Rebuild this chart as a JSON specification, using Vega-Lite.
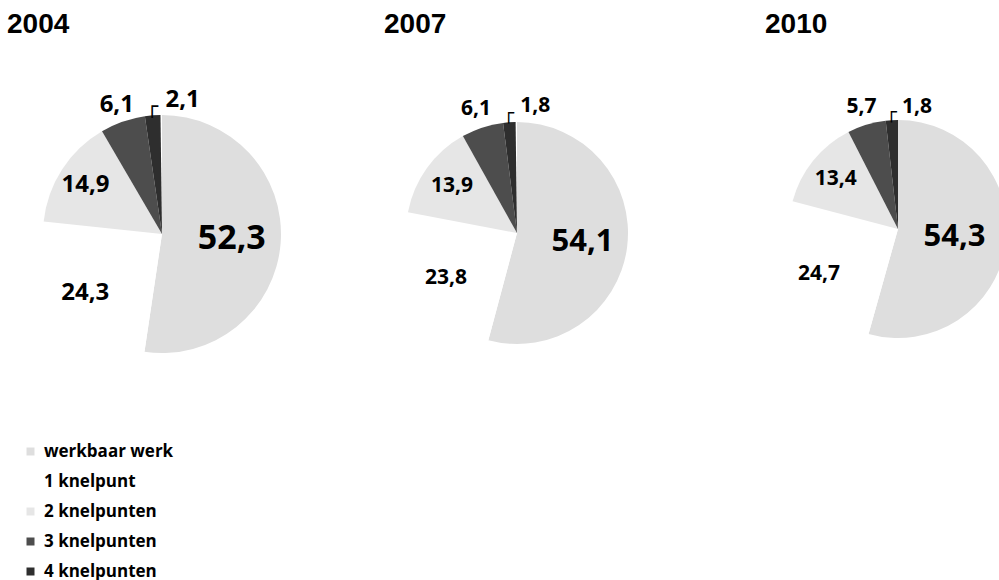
{
  "$schema": "https://vega.github.io/schema/vega-lite/v6.json",
  "width": 999,
  "height": 580,
  "autosize": {"type": "none"},
  "padding": 0,
  "background": "white",
  "config": {
    "view": {"stroke": null},
    "locale": {"number": {"decimal": ",", "thousands": ".", "grouping": [3], "currency": ["€", ""]}}
  },
  "data": {"values": [
    {"year": 2004, "category": "werkbaar werk", "value": 52.3, "rank": 1},
    {"year": 2004, "category": "1 knelpunt", "value": 24.3, "rank": 2},
    {"year": 2004, "category": "2 knelpunten", "value": 14.9, "rank": 3},
    {"year": 2004, "category": "3 knelpunten", "value": 6.1, "rank": 4},
    {"year": 2004, "category": "4 knelpunten", "value": 2.1, "rank": 5},
    {"year": 2007, "category": "werkbaar werk", "value": 54.1, "rank": 1},
    {"year": 2007, "category": "1 knelpunt", "value": 23.8, "rank": 2},
    {"year": 2007, "category": "2 knelpunten", "value": 13.9, "rank": 3},
    {"year": 2007, "category": "3 knelpunten", "value": 6.1, "rank": 4},
    {"year": 2007, "category": "4 knelpunten", "value": 1.8, "rank": 5},
    {"year": 2010, "category": "werkbaar werk", "value": 54.3, "rank": 1},
    {"year": 2010, "category": "1 knelpunt", "value": 24.7, "rank": 2},
    {"year": 2010, "category": "2 knelpunten", "value": 13.4, "rank": 3},
    {"year": 2010, "category": "3 knelpunten", "value": 5.7, "rank": 4},
    {"year": 2010, "category": "4 knelpunten", "value": 1.8, "rank": 5}
  ]},
  "resolve": {"scale": {"x": "independent", "y": "independent"}},
  "layer": [
    {
      "transform": [{"filter": "datum.rank == 1"}],
      "mark": {"type": "text", "font": "Liberation Sans", "fontWeight": "bold", "fontSize": 28, "align": "left", "baseline": "alphabetic", "color": "#000000"},
      "encoding": {
        "text": {"field": "year", "type": "nominal"},
        "x": {"field": "year", "type": "quantitative", "scale": {"domain": [2004, 2007, 2010], "range": [7, 384, 765], "zero": false, "nice": false}, "axis": null},
        "y": {"field": "year", "type": "quantitative", "scale": {"domain": [2004, 2010], "range": [33, 33], "zero": false, "nice": false}, "axis": null}
      }
    },
    {
      "transform": [{"filter": "datum.year == 2004"}],
      "encoding": {
        "theta": {"field": "value", "type": "quantitative", "stack": true},
        "order": {"field": "rank", "type": "quantitative"},
        "x": {"field": "year", "type": "quantitative", "scale": {"domain": [2004, 2007, 2010], "range": [162, 517, 898], "zero": false, "nice": false}, "axis": null},
        "y": {"field": "year", "type": "quantitative", "scale": {"domain": [2004, 2007, 2010], "range": [234, 233, 229], "zero": false, "nice": false}, "axis": null}
      },
      "layer": [
        {"mark": {"type": "arc", "outerRadius": 119},
         "encoding": {"color": {"field": "category", "type": "nominal",
           "scale": {"domain": ["werkbaar werk", "1 knelpunt", "2 knelpunten", "3 knelpunten", "4 knelpunten"], "range": ["#dedede", "#ffffff", "#e6e6e6", "#4d4d4d", "#2e2e2e"]},
           "legend": {"title": null, "orient": "none", "legendX": 22, "legendY": 443, "symbolType": "square", "symbolSize": 64, "symbolStrokeWidth": 0, "labelFont": "Open Sans", "labelFontWeight": "bold", "labelFontSize": 17, "labelOffset": 5, "rowPadding": 12, "labelColor": "#000000"}}}},
        {"mark": {"type": "text", "radius": 70, "font": "Open Sans", "fontWeight": "bold", "fontSize": 34, "color": "#000000"},
         "encoding": {"text": {"condition": {"test": "datum.category === 'werkbaar werk'", "field": "value", "type": "quantitative", "format": ".1f"}, "value": ""}}},
        {"mark": {"type": "text", "radius": 97, "font": "Open Sans", "fontWeight": "bold", "fontSize": 24, "color": "#000000"},
         "encoding": {"text": {"condition": {"test": "datum.category === '1 knelpunt'", "field": "value", "type": "quantitative", "format": ".1f"}, "value": ""}}},
        {"mark": {"type": "text", "radius": 91, "font": "Open Sans", "fontWeight": "bold", "fontSize": 24, "color": "#000000"},
         "encoding": {"text": {"condition": {"test": "datum.category === '2 knelpunten'", "field": "value", "type": "quantitative", "format": ".1f"}, "value": ""}}},
        {"mark": {"type": "text", "radius": 137, "font": "Open Sans", "fontWeight": "bold", "fontSize": 24, "color": "#000000"},
         "encoding": {"text": {"condition": {"test": "datum.category === '3 knelpunten'", "field": "value", "type": "quantitative", "format": ".1f"}, "value": ""}}},
        {"mark": {"type": "text", "radius": 134, "align": "left", "dx": 14, "font": "Open Sans", "fontWeight": "bold", "fontSize": 24, "color": "#000000"},
         "encoding": {"text": {"condition": {"test": "datum.category === '4 knelpunten'", "field": "value", "type": "quantitative", "format": ".1f"}, "value": ""}}},
        {"mark": {"type": "text", "radius": 127, "font": "DejaVu Sans", "fontSize": 20, "color": "#000000"},
         "encoding": {"text": {"condition": {"test": "datum.category === '4 knelpunten'", "value": "┌"}, "value": ""}}}
      ]
    },
    {
      "transform": [{"filter": "datum.year == 2007"}],
      "encoding": {
        "theta": {"field": "value", "type": "quantitative", "stack": true},
        "order": {"field": "rank", "type": "quantitative"},
        "x": {"field": "year", "type": "quantitative", "scale": {"domain": [2004, 2007, 2010], "range": [162, 517, 898], "zero": false, "nice": false}, "axis": null},
        "y": {"field": "year", "type": "quantitative", "scale": {"domain": [2004, 2007, 2010], "range": [234, 233, 229], "zero": false, "nice": false}, "axis": null}
      },
      "layer": [
        {"mark": {"type": "arc", "outerRadius": 111},
         "encoding": {"color": {"field": "category", "type": "nominal",
           "scale": {"domain": ["werkbaar werk", "1 knelpunt", "2 knelpunten", "3 knelpunten", "4 knelpunten"], "range": ["#dedede", "#ffffff", "#e6e6e6", "#4d4d4d", "#2e2e2e"]},
           "legend": {"title": null, "orient": "none", "legendX": 22, "legendY": 443, "symbolType": "square", "symbolSize": 64, "symbolStrokeWidth": 0, "labelFont": "Open Sans", "labelFontWeight": "bold", "labelFontSize": 17, "labelOffset": 5, "rowPadding": 12, "labelColor": "#000000"}}}},
        {"mark": {"type": "text", "radius": 66, "font": "Open Sans", "fontWeight": "bold", "fontSize": 31, "color": "#000000"},
         "encoding": {"text": {"condition": {"test": "datum.category === 'werkbaar werk'", "field": "value", "type": "quantitative", "format": ".1f"}, "value": ""}}},
        {"mark": {"type": "text", "radius": 84, "font": "Open Sans", "fontWeight": "bold", "fontSize": 21, "color": "#000000"},
         "encoding": {"text": {"condition": {"test": "datum.category === '1 knelpunt'", "field": "value", "type": "quantitative", "format": ".1f"}, "value": ""}}},
        {"mark": {"type": "text", "radius": 80, "font": "Open Sans", "fontWeight": "bold", "fontSize": 21, "color": "#000000"},
         "encoding": {"text": {"condition": {"test": "datum.category === '2 knelpunten'", "field": "value", "type": "quantitative", "format": ".1f"}, "value": ""}}},
        {"mark": {"type": "text", "radius": 131, "font": "Open Sans", "fontWeight": "bold", "fontSize": 21, "color": "#000000"},
         "encoding": {"text": {"condition": {"test": "datum.category === '3 knelpunten'", "field": "value", "type": "quantitative", "format": ".1f"}, "value": ""}}},
        {"mark": {"type": "text", "radius": 127, "align": "left", "dx": 12, "font": "Open Sans", "fontWeight": "bold", "fontSize": 21, "color": "#000000"},
         "encoding": {"text": {"condition": {"test": "datum.category === '4 knelpunten'", "field": "value", "type": "quantitative", "format": ".1f"}, "value": ""}}},
        {"mark": {"type": "text", "radius": 119, "font": "DejaVu Sans", "fontSize": 18, "color": "#000000"},
         "encoding": {"text": {"condition": {"test": "datum.category === '4 knelpunten'", "value": "┌"}, "value": ""}}}
      ]
    },
    {
      "transform": [{"filter": "datum.year == 2010"}],
      "encoding": {
        "theta": {"field": "value", "type": "quantitative", "stack": true},
        "order": {"field": "rank", "type": "quantitative"},
        "x": {"field": "year", "type": "quantitative", "scale": {"domain": [2004, 2007, 2010], "range": [162, 517, 898], "zero": false, "nice": false}, "axis": null},
        "y": {"field": "year", "type": "quantitative", "scale": {"domain": [2004, 2007, 2010], "range": [234, 233, 229], "zero": false, "nice": false}, "axis": null}
      },
      "layer": [
        {"mark": {"type": "arc", "outerRadius": 109},
         "encoding": {"color": {"field": "category", "type": "nominal",
           "scale": {"domain": ["werkbaar werk", "1 knelpunt", "2 knelpunten", "3 knelpunten", "4 knelpunten"], "range": ["#dedede", "#ffffff", "#e6e6e6", "#4d4d4d", "#2e2e2e"]},
           "legend": {"title": null, "orient": "none", "legendX": 22, "legendY": 443, "symbolType": "square", "symbolSize": 64, "symbolStrokeWidth": 0, "labelFont": "Open Sans", "labelFontWeight": "bold", "labelFontSize": 17, "labelOffset": 5, "rowPadding": 12, "labelColor": "#000000"}}}},
        {"mark": {"type": "text", "radius": 57, "font": "Open Sans", "fontWeight": "bold", "fontSize": 31, "color": "#000000"},
         "encoding": {"text": {"condition": {"test": "datum.category === 'werkbaar werk'", "field": "value", "type": "quantitative", "format": ".1f"}, "value": ""}}},
        {"mark": {"type": "text", "radius": 91, "font": "Open Sans", "fontWeight": "bold", "fontSize": 21, "color": "#000000"},
         "encoding": {"text": {"condition": {"test": "datum.category === '1 knelpunt'", "field": "value", "type": "quantitative", "format": ".1f"}, "value": ""}}},
        {"mark": {"type": "text", "radius": 80, "font": "Open Sans", "fontWeight": "bold", "fontSize": 21, "color": "#000000"},
         "encoding": {"text": {"condition": {"test": "datum.category === '2 knelpunten'", "field": "value", "type": "quantitative", "format": ".1f"}, "value": ""}}},
        {"mark": {"type": "text", "radius": 127, "font": "Open Sans", "fontWeight": "bold", "fontSize": 21, "color": "#000000"},
         "encoding": {"text": {"condition": {"test": "datum.category === '3 knelpunten'", "field": "value", "type": "quantitative", "format": ".1f"}, "value": ""}}},
        {"mark": {"type": "text", "radius": 122, "align": "left", "dx": 11, "font": "Open Sans", "fontWeight": "bold", "fontSize": 21, "color": "#000000"},
         "encoding": {"text": {"condition": {"test": "datum.category === '4 knelpunten'", "field": "value", "type": "quantitative", "format": ".1f"}, "value": ""}}},
        {"mark": {"type": "text", "radius": 116, "font": "DejaVu Sans", "fontSize": 18, "color": "#000000"},
         "encoding": {"text": {"condition": {"test": "datum.category === '4 knelpunten'", "value": "┌"}, "value": ""}}}
      ]
    }
  ]
}
